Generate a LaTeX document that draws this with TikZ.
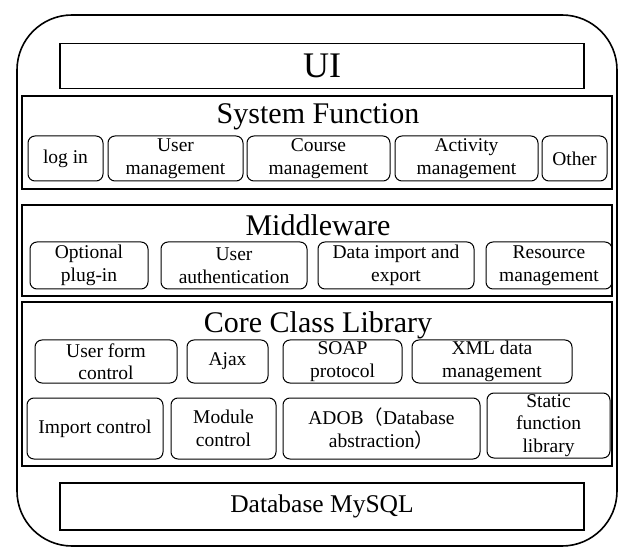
\documentclass[tikz,border=0pt]{standalone}
\usepackage{fontspec}
\setmainfont{Liberation Serif}
\newfontfamily\cjkfont{Noto Sans CJK SC}
\begin{document}
\begin{tikzpicture}[x=1pt,y=-1pt,
  layer/.style={draw, line width=1.4pt, inner sep=0pt},
  item/.style={draw, rounded corners=7pt, line width=1pt, align=center, inner sep=0pt,
    font=\fontsize{19.5}{22.5}\selectfont},
  ttl/.style={font=\fontsize{30}{32}\selectfont, inner sep=0pt}]
\useasboundingbox (0,0) rectangle (619,548);
\node[draw, line width=1.6pt, rounded corners=55pt, minimum width=600pt, minimum height=531pt] (outer) at (317,280.5) {};
\node[layer, minimum width=524pt, minimum height=45pt, font=\fontsize{36}{38}\selectfont] (ui) at (322,66) {UI};
% System Function
\node[layer, minimum width=590pt, minimum height=93pt] (sysf) at (317,142.5) {};
\node[ttl] (sysft) at (318,117) {System Function};
\node[item, minimum width=75pt, minimum height=45pt] (login) at (65.5,158.5) {log in};
\node[item, minimum width=135pt, minimum height=45pt] (userm) at (175.5,158.5) {User\\management};
\node[item, minimum width=143pt, minimum height=45pt] (course) at (318.5,158.5) {Course\\management};
\node[item, minimum width=143pt, minimum height=45pt] (activ) at (466.5,158.5) {Activity\\management};
\node[item, minimum width=65pt, minimum height=45pt] (other) at (574.5,158.5) {Other};
% Middleware
\node[layer, minimum width=590pt, minimum height=91pt] (mid) at (317,250.5) {};
\node[ttl] (midt) at (318,225.5) {Middleware};
\node[item, minimum width=118pt, minimum height=47pt] (plug) at (89,265.5) {Optional\\plug-in};
\node[item, minimum width=146pt, minimum height=47pt] (auth) at (234,265.5) {User\\authentication};
\node[item, minimum width=156pt, minimum height=47pt] (dimp) at (396,265.5) {Data import and\\export};
\node[item, minimum width=126pt, minimum height=47pt] (res) at (549,265.5) {Resource\\management};
% Core Class Library
\node[layer, minimum width=590pt, minimum height=164pt] (core) at (317,384) {};
\node[ttl] (coret) at (318,325) {Core Class Library};
\node[item, minimum width=142pt, minimum height=43pt] (uform) at (106,361.5) {User form\\control};
\node[item, minimum width=81pt, minimum height=43pt] (ajax) at (227.5,361.5) {Ajax};
\node[item, minimum width=119pt, minimum height=43pt] (soap) at (342.5,361.5) {SOAP\\protocol};
\node[item, minimum width=160pt, minimum height=43pt] (xml) at (492,361.5) {XML data\\management};
\node[item, minimum width=136pt, minimum height=61pt] (imp) at (95,428.5) {Import control};
\node[item, minimum width=105pt, minimum height=61pt] (mod) at (223.5,428.5) {Module\\control};
\node[item, minimum width=197pt, minimum height=61pt] (adob) at (381.5,428.5) {ADOB{\cjkfont （}Database\\abstraction{\cjkfont ）}};
\node[item, minimum width=123pt, minimum height=65pt] (stat) at (548.5,425.5) {Static\\function\\library};
% Database
\node[layer, minimum width=524pt, minimum height=47pt, font=\fontsize{25.5}{28}\selectfont] (db) at (322,506.5) {Database MySQL};
\end{tikzpicture}
\end{document}
